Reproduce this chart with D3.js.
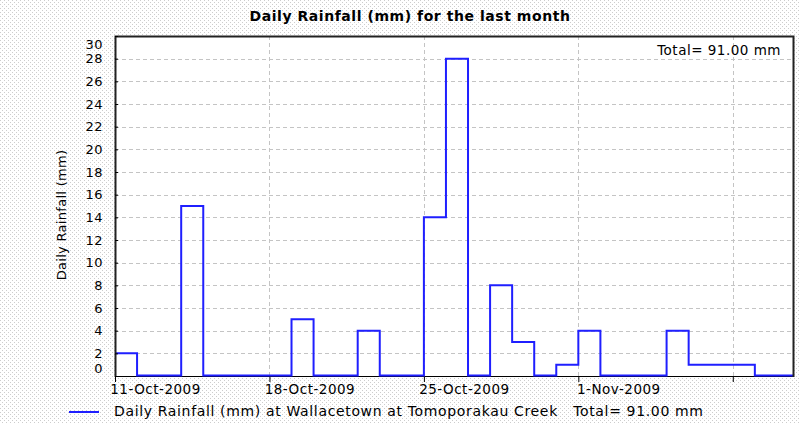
<!DOCTYPE html>
<html>
<head>
<meta charset="utf-8">
<script src="https://cdn.jsdelivr.net/npm/d3@7"></script>
<style>
  body { margin: 0; background: #fff; }
  svg text { font-family: "DejaVu Sans", Verdana, sans-serif; fill: #000; }
</style>
</head>
<body>
<div id="area"></div>
<script>
var width = 800,
    height = 423;

// daily rainfall, one value per day starting 11-Oct-2009
var days = ['2009-10-11', '2009-10-12', '2009-10-13', '2009-10-14', '2009-10-15', '2009-10-16',
            '2009-10-17', '2009-10-18', '2009-10-19', '2009-10-20', '2009-10-21', '2009-10-22',
            '2009-10-23', '2009-10-24', '2009-10-25', '2009-10-26', '2009-10-27', '2009-10-28',
            '2009-10-29', '2009-10-30', '2009-10-31', '2009-11-01', '2009-11-02', '2009-11-03',
            '2009-11-04', '2009-11-05', '2009-11-06', '2009-11-07', '2009-11-08', '2009-11-09',
            '2009-11-10'];
var rainfall = [2, 0, 0, 15, 0, 0, 0, 0, 5, 0, 0, 4, 0, 0, 14, 28, 0, 8, 3, 0, 1, 4, 0, 0, 0,
                4, 1, 1, 1, 0, 0];
var yTicks = [0, 2, 4, 6, 8, 10, 12, 14, 16, 18, 20, 22, 24, 26, 28, 30];
var xTickDates = ['2009-10-11', '2009-10-18', '2009-10-25', '2009-11-01', '2009-11-08'];
var rangeEnd = '2009-11-10T17:30';

var title = 'Daily Rainfall (mm) for the last month',
    yTitle = 'Daily Rainfall (mm)',
    totalText = 'Total= 91.00 mm',
    legendText = 'Daily Rainfall (mm) at Wallacetown at Tomoporakau Creek   Total= 91.00 mm';

var line_color = '#1f1fff',
    grid_color = '#c4c4c4';

var plot = {left: 115, top: 36, right: 793, bottom: 376};

var parseDay = d3.timeParse('%Y-%m-%d');
var parseEnd = d3.timeParse('%Y-%m-%dT%H:%M');
var fmt = d3.timeFormat('%-d-%b-%Y');

var data = days.map(function(d, i) { return {date: parseDay(d), value: rainfall[i]}; });
var endDate = parseEnd(rangeEnd);

var x = d3.scaleTime()
    .domain([data[0].date, endDate])
    .range([plot.left, plot.right]);
var y = d3.scaleLinear()
    .domain([0, 30])
    .range([plot.bottom, plot.top]);

var svg = d3.select('#area').append('svg')
    .attr('width', width)
    .attr('height', height);

// dotted background
var defs = svg.append('defs');
var pat = defs.append('pattern')
    .attr('id', 'dots')
    .attr('width', 4).attr('height', 4)
    .attr('patternUnits', 'userSpaceOnUse');
pat.append('rect').attr('width', 4).attr('height', 4).attr('fill', '#ffffff');
pat.append('rect').attr('x', 0).attr('y', 0).attr('width', 1).attr('height', 1).attr('fill', '#cdcdcd');
pat.append('rect').attr('x', 2).attr('y', 2).attr('width', 1).attr('height', 1).attr('fill', '#cdcdcd');

svg.append('rect')
    .attr('width', width).attr('height', height)
    .attr('fill', 'url(#dots)');

svg.append('rect')
    .attr('x', plot.left).attr('y', plot.top)
    .attr('width', plot.right - plot.left)
    .attr('height', plot.bottom - plot.top)
    .attr('fill', '#fff');

// grid lines
svg.append('g').selectAll('line.h')
    .data(yTicks.filter(function(t) { return t > 0 && t < 30; }))
    .enter().append('line')
    .attr('x1', plot.left).attr('x2', plot.right)
    .attr('y1', function(d) { return Math.round(y(d)) + 0.5; })
    .attr('y2', function(d) { return Math.round(y(d)) + 0.5; })
    .attr('stroke', grid_color)
    .attr('stroke-dasharray', '4,3');

svg.append('g').selectAll('line.v')
    .data(xTickDates.slice(1).map(parseDay))
    .enter().append('line')
    .attr('x1', function(d) { return Math.round(x(d)) + 0.5; })
    .attr('x2', function(d) { return Math.round(x(d)) + 0.5; })
    .attr('y1', plot.top).attr('y2', plot.bottom)
    .attr('stroke', grid_color)
    .attr('stroke-dasharray', '4,3');

// step line
var stepData = data.concat([{date: endDate, value: data[data.length - 1].value}]);
var line = d3.line()
    .x(function(d) { return x(d.date); })
    .y(function(d) { return d.value === 0 ? y(0) - 0.5 : y(d.value); })
    .curve(d3.curveStepAfter);

// bottom axis line
svg.append('line')
    .attr('x1', plot.left).attr('x2', plot.right)
    .attr('y1', plot.bottom + 0.5).attr('y2', plot.bottom + 0.5)
    .attr('stroke', '#000');

svg.append('path')
    .datum(stepData)
    .attr('d', line)
    .attr('fill', 'none')
    .attr('stroke', line_color)
    .attr('stroke-width', 2);

// frame
svg.append('path')
    .attr('d', 'M' + (plot.left + 0.5) + ',' + (plot.bottom + 1) + 'V' + (plot.top + 0.5) + 'H' + (plot.right + 0.5) + 'V' + (plot.bottom + 1))
    .attr('fill', 'none')
    .attr('stroke', '#222')
    .attr('stroke-width', 2);

// x axis ticks + labels
var xAxis = d3.axisBottom(x)
    .tickValues(xTickDates.map(parseDay))
    .tickSize(5)
    .tickFormat(fmt);
var gx = svg.append('g')
    .attr('transform', 'translate(0,' + (plot.bottom + 1) + ')')
    .call(xAxis);
gx.select('.domain').remove();
gx.selectAll('.tick line').attr('stroke', '#000');
gx.selectAll('.tick text')
    .attr('x', 40)
    .attr('y', 7)
    .attr('dy', '0.71em')
    .style('font-size', '13.5px')
    .style('letter-spacing', '0.5px')
    .style('font-family', '"DejaVu Sans", Verdana, sans-serif')
    .attr('fill', '#000')
    .each(function(d) {
        // drop labels that run past the chart edge
        if (x(d) + 40 + this.getComputedTextLength() / 2 > width) d3.select(this).remove();
    });

// y axis ticks + labels
var yAxis = d3.axisLeft(y)
    .tickValues(yTicks)
    .tickSize(-3)
    .tickPadding(12);
var gy = svg.append('g')
    .attr('transform', 'translate(' + plot.left + ',0)')
    .call(yAxis);
gy.select('.domain').remove();
gy.selectAll('.tick line').attr('stroke', '#000');
gy.selectAll('.tick text')
    .style('font-size', '13px')
    .style('letter-spacing', '0.5px')
    .style('font-family', '"DejaVu Sans", Verdana, sans-serif')
    .attr('fill', '#000')
    .attr('y', function(d) {
        // end labels are kept inside the plot, like the original
        if (d === 30) return 8.5;
        if (d === 0) return -7.5;
        return 0;
    });

// titles
svg.append('text')
    .attr('x', 410).attr('y', 21)
    .attr('text-anchor', 'middle')
    .style('font-size', '14px')
    .style('font-weight', 'bold')
    .style('letter-spacing', '0.55px')
    .text(title);

svg.append('text')
    .attr('transform', 'translate(66,' + 215 + ') rotate(-90)')
    .attr('text-anchor', 'middle')
    .style('font-size', '13px')
    .style('letter-spacing', '0.3px')
    .text(yTitle);

svg.append('text')
    .attr('x', 781).attr('y', 55)
    .attr('text-anchor', 'end')
    .style('font-size', '13.5px')
    .style('letter-spacing', '0.5px')
    .text(totalText);

// legend
svg.append('line')
    .attr('x1', 69).attr('x2', 99)
    .attr('y1', 412).attr('y2', 412)
    .attr('stroke', line_color)
    .attr('stroke-width', 2);
svg.append('text')
    .attr('x', 114).attr('y', 416)
    .style('font-size', '14px')
    .style('letter-spacing', '0.65px')
    .style('white-space', 'pre')
    .attr('xml:space', 'preserve')
    .text(legendText);
</script>
</body>
</html>
